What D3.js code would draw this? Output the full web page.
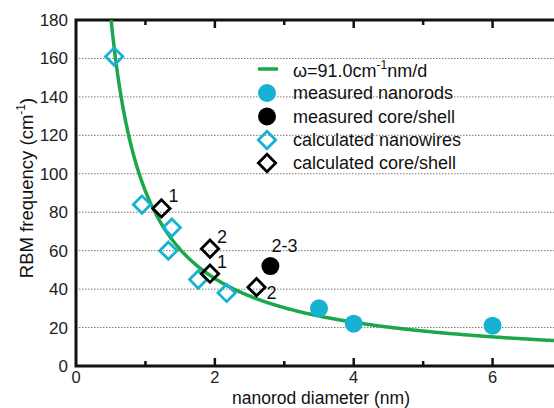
<!DOCTYPE html>
<html>
<head>
<meta charset="utf-8">
<script src="https://cdn.jsdelivr.net/npm/d3@7"></script>
<style>
  body { margin: 0; background: #fff; }
  svg { display: block; font-family: "Liberation Sans", Arial, sans-serif; }
</style>
</head>
<body>
<div id="chart"></div>
<script>
// fit constant: omega = A / d
var fitA = 91.0;

var nanowireD = [0.55, 0.95, 1.38, 1.33, 1.76, 2.17];
var nanowireW = [161, 84, 72, 60, 45, 38];

var coreShellD = [1.23, 1.93, 1.93, 2.6];
var coreShellW = [82, 61, 48, 41];
var coreShellLbl = ["1", "2", "1", "2"];

var measRodD = [3.5, 4.0, 6.0];
var measRodW = [30, 22, 21];

var measCsD = [2.8];
var measCsW = [52];
var measCsLbl = ["2-3"];

var yTicks = [0, 20, 40, 60, 80, 100, 120, 140, 160, 180];
var xTicks = [0, 2, 4, 6];
var xMinor = [1, 3, 5];

var legendLabels = ["measured nanorods", "measured core/shell", "calculated nanowires", "calculated core/shell"];

var width = 554, height = 408;
var cyan = "#17b2d2", green = "#1ba84a";

var svg = d3.select("#chart").append("svg")
  .attr("width", width)
  .attr("height", height);

var x = d3.scaleLinear().domain([0, 7]).range([76, 562]);
var y = d3.scaleLinear().domain([0, 180]).range([366, 20]);

// grid
svg.selectAll(".grid")
  .data(yTicks.filter(function(d) { return d > 0 && d < 180; }))
  .enter().append("line")
  .attr("x1", x(0)).attr("x2", width)
  .attr("y1", function(d) { return y(d); })
  .attr("y2", function(d) { return y(d); })
  .attr("stroke", "#777")
  .attr("stroke-width", 1)
  .attr("stroke-dasharray", "1.5,1.5");

// y tick labels
svg.selectAll(".ylab")
  .data(yTicks)
  .enter().append("text")
  .attr("x", 68)
  .attr("y", function(d) { return y(d) + 6; })
  .attr("text-anchor", "end")
  .attr("font-size", 17)
  .attr("fill", "#222")
  .text(function(d) { return d; });

// x tick labels
svg.selectAll(".xlab")
  .data(xTicks)
  .enter().append("text")
  .attr("x", function(d) { return x(d); })
  .attr("y", 383)
  .attr("text-anchor", "middle")
  .attr("font-size", 16.5)
  .attr("fill", "#222")
  .text(function(d) { return d; });

// ticks bottom (inward) and top (inward)
var ticks = xTicks.filter(function(d) { return d > 0; }).map(function(d) { return {v: d, len: 8}; })
  .concat(xMinor.map(function(d) { return {v: d, len: 5}; }));
svg.selectAll(".tb").data(ticks).enter().append("line")
  .attr("x1", function(d) { return x(d.v); }).attr("x2", function(d) { return x(d.v); })
  .attr("y1", y(0)).attr("y2", function(d) { return y(0) - d.len; })
  .attr("stroke", "#111").attr("stroke-width", 2.5);
svg.selectAll(".tt").data(ticks).enter().append("line")
  .attr("x1", function(d) { return x(d.v); }).attr("x2", function(d) { return x(d.v); })
  .attr("y1", y(180)).attr("y2", function(d) { return y(180) + d.len; })
  .attr("stroke", "#111").attr("stroke-width", 2.5);

// frame
svg.append("path")
  .attr("d", "M" + width + "," + y(180) + "H" + x(0) + "V" + y(0) + "H" + width)
  .attr("fill", "none")
  .attr("stroke", "#111")
  .attr("stroke-width", 3);

// fit curve
var curveD = d3.range(fitA / 180, 7.01, 0.02);
var line = d3.line()
  .x(function(d) { return x(d); })
  .y(function(d) { return y(fitA / d); });
svg.append("path")
  .datum(curveD)
  .attr("d", line)
  .attr("fill", "none")
  .attr("stroke", green)
  .attr("stroke-width", 3.5);

function diamond(sel, color) {
  sel.attr("d", d3.symbol().type(d3.symbolSquare).size(150))
    .attr("fill", "none")
    .attr("stroke", color)
    .attr("stroke-width", 2.8);
}

// calculated nanowires
svg.selectAll(".nw").data(nanowireD).enter().append("path")
  .attr("transform", function(d, i) { return "translate(" + x(d) + "," + y(nanowireW[i]) + ") rotate(45)"; })
  .call(diamond, cyan);

// calculated core/shell
svg.selectAll(".cs").data(coreShellD).enter().append("path")
  .attr("transform", function(d, i) { return "translate(" + x(d) + "," + y(coreShellW[i]) + ") rotate(45)"; })
  .call(diamond, "#000");

svg.selectAll(".csl").data(coreShellD).enter().append("text")
  .attr("x", function(d, i) { return x(d) + (i == 3 ? 10 : 7); })
  .attr("y", function(d, i) { return y(coreShellW[i]) + (i == 3 ? 12 : -6); })
  .attr("font-size", 18)
  .attr("fill", "#111")
  .text(function(d, i) { return coreShellLbl[i]; });

// measured nanorods
svg.selectAll(".mr").data(measRodD).enter().append("circle")
  .attr("cx", function(d) { return x(d); })
  .attr("cy", function(d, i) { return y(measRodW[i]); })
  .attr("r", 9)
  .attr("fill", cyan);

// measured core/shell
svg.selectAll(".mc").data(measCsD).enter().append("circle")
  .attr("cx", function(d) { return x(d); })
  .attr("cy", function(d, i) { return y(measCsW[i]); })
  .attr("r", 9)
  .attr("fill", "#000");
svg.selectAll(".mcl").data(measCsD).enter().append("text")
  .attr("x", function(d) { return x(d) + 1; })
  .attr("y", function(d, i) { return y(measCsW[i]) - 14; })
  .attr("font-size", 18)
  .attr("fill", "#111")
  .text(function(d, i) { return measCsLbl[i]; });

// legend
var lx = 267, lt = 293;
svg.append("line")
  .attr("x1", lx - 9).attr("x2", lx + 11)
  .attr("y1", 69).attr("y2", 69)
  .attr("stroke", green).attr("stroke-width", 3.5);
var t0 = svg.append("text").attr("x", lt).attr("y", 77).attr("font-size", 18).attr("fill", "#111");
t0.append("tspan").text("\u03c9=91.0cm");
t0.append("tspan").attr("dy", -8).attr("font-size", 12).text("-1");
t0.append("tspan").attr("dy", 8).text("nm/d");

var ly = [93, 116.5, 140, 163];
svg.append("circle").attr("cx", lx).attr("cy", ly[0]).attr("r", 9).attr("fill", cyan);
svg.append("circle").attr("cx", lx).attr("cy", ly[1]).attr("r", 9).attr("fill", "#000");
svg.append("path").attr("transform", "translate(" + lx + "," + ly[2] + ") rotate(45)").call(diamond, cyan);
svg.append("path").attr("transform", "translate(" + lx + "," + ly[3] + ") rotate(45)").call(diamond, "#000");
svg.selectAll(".lt").data(legendLabels).enter().append("text")
  .attr("x", lt)
  .attr("y", function(d, i) { return ly[i] + 6; })
  .attr("font-size", 18)
  .attr("fill", "#111")
  .text(function(d) { return d; });

// axis titles
svg.append("text")
  .attr("x", 321)
  .attr("y", 404)
  .attr("text-anchor", "middle")
  .attr("font-size", 17.5)
  .attr("fill", "#111")
  .text("nanorod diameter (nm)");

var yt = svg.append("text")
  .attr("transform", "translate(33,188) rotate(-90)")
  .attr("text-anchor", "middle")
  .attr("font-size", 18.5)
  .attr("fill", "#111");
yt.append("tspan").text("RBM frequency  (cm");
yt.append("tspan").attr("dy", -8).attr("font-size", 12).text("-1");
yt.append("tspan").attr("dy", 8).text(")");
</script>
</body>
</html>
